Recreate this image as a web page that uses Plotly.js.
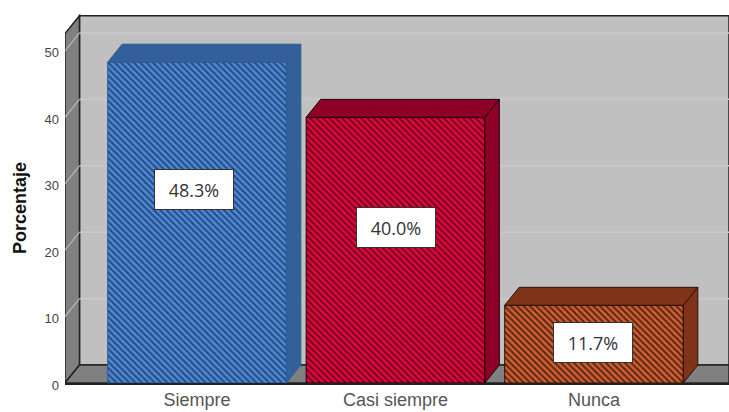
<!DOCTYPE html>
<html><head><meta charset="utf-8">
<script src="https://cdn.plot.ly/plotly-3.0.1.min.js"></script>
<style>html,body{margin:0;padding:0;background:#fff}</style></head>
<body><div id="chart" style="width:729px;height:412px"></div>
<script>
const categories = ["Siempre", "Casi siempre", "Nunca"];
const values = [48.3, 40.0, 11.7];
const valueLabels = ["48.3%", "40.0%", "11.7%"];
const yTicks = [0, 10, 20, 30, 40, 50];
const labelHeights = [29.2, 23.4, 6.1];
const labelShift = [-0.015, 0.003, -0.005];
const frontBg = ["#4f88d2", "#dc0a3a", "#cc6034"];
const frontFg = ["#234a82", "#740022", "#5a2410"];
const faceColors = ["#33609a", "#8e0028", "#7f3319"];
const edgeColors = ["#2f5a94", "#1c0008", "#2a1006"];

const xPos = [0, 1, 2];
const barW = 0.9;
const depthX = 0.073, depthY = 2.7;
const xMin = -0.665, xMax = 2.68, yMax = 55.7, wallTop = 52.6;

const bars = values.map((v, i) => ({
  type: "bar", x: [xPos[i]], y: [v], width: barW, showlegend: false, hoverinfo: "skip",
  marker: {
    color: frontBg[i], opacity: 1,
    line: {color: edgeColors[i], width: 1},
    pattern: {shape: "\\", size: 4.5, solidity: 0.42, fgcolor: frontFg[i], bgcolor: frontBg[i], fgopacity: 1, fillmode: "replace"}
  }
}));
const faces = [];
values.forEach((v, i) => {
  const l = xPos[i] - barW / 2, r = xPos[i] + barW / 2;
  faces.push({type: "scatter", mode: "lines", fill: "toself", fillcolor: faceColors[i],
    x: [l, l + depthX, r + depthX, r, l], y: [v, v + depthY, v + depthY, v, v],
    line: {color: edgeColors[i], width: 1}, showlegend: false, hoverinfo: "skip"});
  faces.push({type: "scatter", mode: "lines", fill: "toself", fillcolor: faceColors[i],
    x: [r, r + depthX, r + depthX, r, r], y: [v, v + depthY, depthY, 0, v],
    line: {color: edgeColors[i], width: 1}, showlegend: false, hoverinfo: "skip"});
});

const backX = xMin + depthX;
const wallLine = {color: "#222", width: 1.5};
const poly = pts => "M" + pts.map(p => p.join(",")).join("L") + "Z";
const shapes = [
  {type: "path", layer: "below", path: poly([[backX, depthY], [xMax, depthY], [xMax, 55.3], [backX, 55.3]]), fillcolor: "#c0c0c0", line: wallLine},
  {type: "path", layer: "below", path: poly([[xMin, 0], [backX, depthY], [backX, 55.3], [xMin, wallTop]]), fillcolor: "#808080", line: wallLine},
  {type: "path", layer: "below", path: poly([[xMin, 0], [xMax, 0], [xMax, depthY], [backX, depthY]]), fillcolor: "#808080", line: wallLine}
];
yTicks.slice(1).forEach(t => {
  shapes.push({type: "line", layer: "below", x0: backX, x1: xMax, y0: t + depthY, y1: t + depthY, line: {color: "#cacaca", width: 1.5}});
  shapes.push({type: "line", layer: "below", x0: xMin, x1: backX, y0: t, y1: t + depthY, line: {color: "#b8b8b8", width: 1.2}});
});

const annotations = values.map((v, i) => ({
  x: xPos[i] + labelShift[i], y: labelHeights[i], text: valueLabels[i], showarrow: false,
  width: 76, height: 37, bgcolor: "#fff", bordercolor: "#333", borderwidth: 1, borderpad: 1,
  font: {family: "Open Sans, sans-serif", size: 18, color: "#333"}
}));

const layout = {
  width: 729, height: 412, paper_bgcolor: "#fff", plot_bgcolor: "rgba(0,0,0,0)",
  margin: {l: 65, r: 0, t: 13, b: 28.5}, showlegend: false, shapes, annotations, barmode: "overlay",
  xaxis: {range: [xMin, xMax], tickmode: "array", tickvals: xPos, ticktext: categories, showgrid: false, zeroline: false,
    showline: true, linecolor: "#222", linewidth: 1.5, ticks: "", ticklen: 0,
    tickfont: {family: "Liberation Sans, Arial, sans-serif", size: 18, color: "#555"}},
  yaxis: {range: [0, yMax], tickmode: "array", tickvals: yTicks, ticktext: yTicks.map(String), showgrid: false, zeroline: false,
    showline: false, ticks: "", ticklen: 0, ticklabelstandoff: 5, ticklabelshift: 2,
    tickfont: {family: "Liberation Sans, Arial, sans-serif", size: 13, color: "#444"},
    title: {text: "<b>Porcentaje\u00a0\u00a0\u00a0\u00a0</b>", standoff: 13, font: {family: "Liberation Sans, Arial, sans-serif", size: 18, color: "#111"}}}
};
Plotly.newPlot("chart", [...bars, ...faces], layout, {displayModeBar: false, responsive: false});
</script></body></html>
